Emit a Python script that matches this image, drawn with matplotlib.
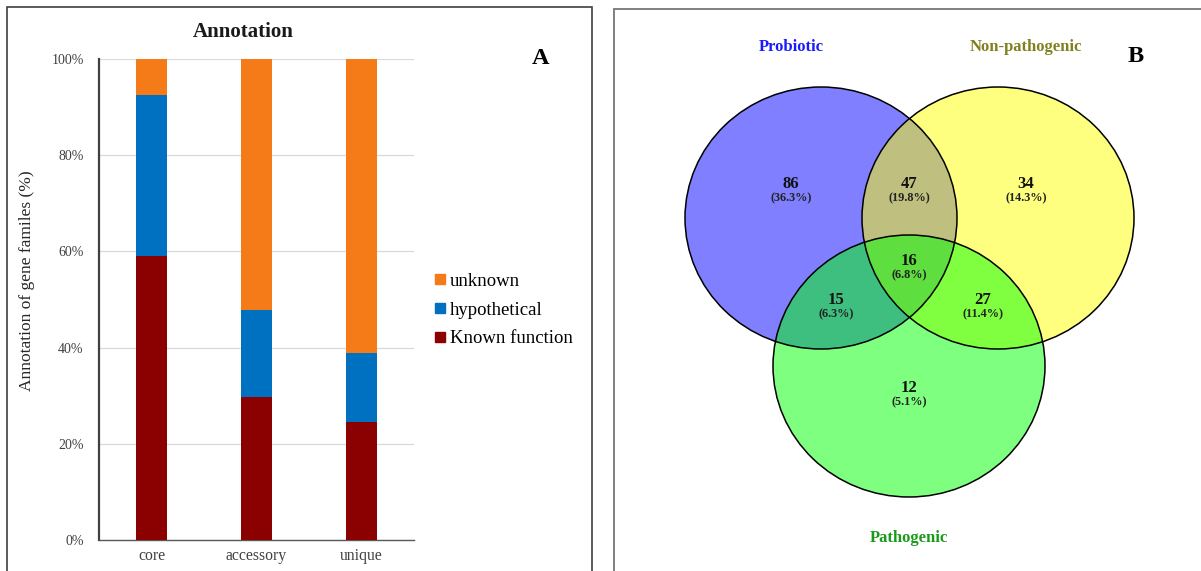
import matplotlib
matplotlib.use("Agg")
import matplotlib.pyplot as plt
from matplotlib.patches import Rectangle, Ellipse
from matplotlib.lines import Line2D

plt.rcParams['font.family'] = ['Liberation Serif', 'DejaVu Serif']

# ---- Panel A data: share of gene families by annotation class (%) ----
categories = ["core", "accessory", "unique"]
known_function = [59.1, 29.7, 24.5]
hypothetical = [33.4, 18.2, 14.4]
unknown = [7.5, 52.1, 61.1]
yticks = [0, 20, 40, 60, 80, 100]

# ---- Panel B data: Venn region counts ----
set_names = ["Probiotic", "Non-pathogenic", "Pathogenic"]
only_probiotic = 86
only_nonpath = 34
only_path = 12
probiotic_nonpath = 47
probiotic_path = 15
nonpath_path = 27
all_three = 16

W, H = 1201, 571
fig = plt.figure(figsize=(W / 100, H / 100), dpi=100)


def fx(px):
    return px / W


def fy(py):
    return 1 - py / H


# panel frames
fig.add_artist(Rectangle((fx(7), fy(600)), fx(592) - fx(7), fy(7) - fy(600),
                         transform=fig.transFigure, fill=False,
                         edgecolor="#404040", lw=1.2))
fig.add_artist(Rectangle((fx(614), fy(600)), fx(1260) - fx(614), fy(8.5) - fy(600),
                         transform=fig.transFigure, fill=False,
                         edgecolor="#808080", lw=1.4))

# ---------------- Panel A ----------------
ax = fig.add_axes([fx(99), fy(540), fx(414) - fx(99), fy(59) - fy(540)])
x = list(range(len(categories)))
bw = 0.29
ax.bar(x, known_function, width=bw, color="#8B0000", zorder=3)
ax.bar(x, hypothetical, width=bw, bottom=known_function, color="#0070C0", zorder=3)
bottoms = [a + b for a, b in zip(known_function, hypothetical)]
ax.bar(x, unknown, width=bw, bottom=bottoms, color="#F47B17", zorder=3)

ax.set_xlim(-0.5, 2.5)
ax.set_ylim(0, 100)
ax.set_yticks(yticks)
ax.set_yticklabels([f"{t}%" for t in yticks], fontsize=10, color="#404040")
ax.set_xticks(x)
ax.set_xticklabels(categories, fontsize=11.3, color="#404040")
ax.tick_params(axis="both", length=0)
ax.tick_params(axis="y", pad=11)
ax.tick_params(axis="x", pad=6)
ax.yaxis.grid(True, color="#D9D9D9", lw=0.9, zorder=0)
for s in ("top", "right"):
    ax.spines[s].set_visible(False)
ax.spines["left"].set_color("#404040")
ax.spines["left"].set_linewidth(1.6)
ax.spines["bottom"].set_color("#595959")
ax.spines["bottom"].set_linewidth(1.0)

fig.text(fx(27), fy(281), "Annotation of gene familes (%)", rotation=90,
         ha="center", va="center", fontsize=12.5, color="#262626")
fig.text(fx(243), fy(32), "Annotation", ha="center", va="center",
         fontsize=15, fontweight="bold", color="#1a1a1a")
fig.text(fx(541), fy(58), "A", ha="center", va="center",
         fontsize=17.5, fontweight="bold", color="black")

handles = [Line2D([], [], marker="s", ls="none", markersize=6.5, color=c)
           for c in ("#F47B17", "#0070C0", "#8B0000")]
fig.legend(handles, ["unknown", "hypothetical", "Known function"],
           loc="center left", bbox_to_anchor=(fx(434), fy(310)),
           frameon=False, fontsize=13.5, handlelength=0.6, handletextpad=0.25,
           labelspacing=0.62, borderpad=0, borderaxespad=0)

# ---------------- Panel B ----------------
vx = fig.add_axes([fx(614), 0, 1 - fx(614), 1])
vx.set_xlim(614, W)
vx.set_ylim(H, 0)
vx.axis("off")

circles = [
    ((821, 218), "#0000FF"),
    ((998, 218), "#FFFF00"),
    ((909, 366), "#00FF00"),
]
for (cx, cy), col in circles:
    vx.add_patch(Ellipse((cx, cy), 272, 262, facecolor=col, alpha=0.5,
                         edgecolor="none", zorder=1))
for (cx, cy), col in circles:
    vx.add_patch(Ellipse((cx, cy), 272, 262, facecolor="none",
                         edgecolor="black", lw=1.1, zorder=2))

counts = [only_probiotic, probiotic_nonpath, only_nonpath, all_three,
          probiotic_path, nonpath_path, only_path]
total = sum(counts)
spots = [(791, 184), (909, 184), (1026, 184), (909, 261),
         (836, 300), (983, 300), (909, 388)]
for n, (tx, ty) in zip(counts, spots):
    vx.text(tx, ty, str(n), ha="center", va="center", fontsize=12,
            fontweight="bold", color="#111111", zorder=3)
    vx.text(tx, ty + 14, f"({100 * n / total:.1f}%)", ha="center", va="center",
            fontsize=8.8, fontweight="bold", color="#222222", zorder=3)

label_pos = [(791, 47), (1026, 47), (909, 538)]
label_col = ["#1A1AFF", "#808020", "#1A9A1A"]
for name, (tx, ty), col in zip(set_names, label_pos, label_col):
    vx.text(tx, ty, name, ha="center", va="center", fontsize=12,
            fontweight="bold", color=col)
vx.text(1136, 57, "B", ha="center", va="center", fontsize=17.5,
        fontweight="bold", color="black")

fig.savefig("out.png", dpi=100)
